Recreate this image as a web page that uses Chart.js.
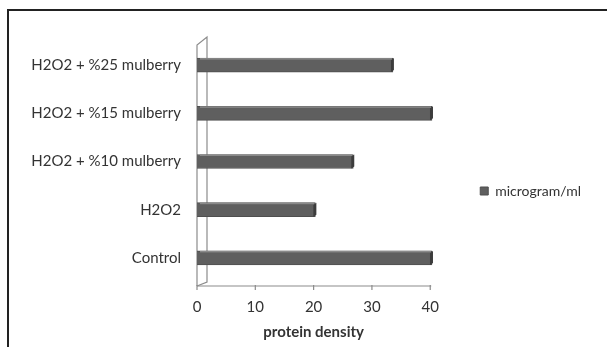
<!DOCTYPE html>
<html>
<head>
<meta charset="utf-8">
<script src="https://cdn.jsdelivr.net/npm/chart.js@4/dist/chart.umd.min.js"></script>
<style>
  body { margin: 0; background: #fff; }
  #wrap { position: relative; width: 607px; height: 347px; }
  #frame { position: absolute; left: 7px; top: 9px; right: -5px; bottom: -5px; border-top: 2px solid #222; border-left: 2px solid #222; pointer-events: none; }
</style>
</head>
<body>
<div id="wrap">
  <canvas id="chart" width="607" height="347"></canvas>
  <div id="frame"></div>
</div>
<script>
// data (top to bottom)
const categories = ["H2O2 + %25 mulberry", "H2O2 + %15 mulberry", "H2O2 + %10 mulberry", "H2O2", "Control"];
const proteinValues = [33.6, 40.3, 26.8, 20.3, 40.3];
const xTicks = [0, 10, 20, 30, 40];
const seriesName = "microgram/ml";

const DEPTH = 10; // 3d wall offset

// left wall + floor line, drawn from the scale positions
const wallPlugin = {
  id: "wall",
  beforeLayout(chart) {
    // let the legend be wider than half the free space (it keeps the gap to the plot)
    const lg = chart.legend;
    if (lg && !lg._wide) {
      const fit = lg.fit;
      lg.fit = function () { this.maxWidth = 1000; fit.call(this); };
      lg._wide = true;
    }
  },
  beforeDatasetsDraw(chart) {
    const { ctx, chartArea, scales } = chart;
    const x0 = scales.x.getPixelForValue(0);
    const floor = chartArea.bottom + 4;
    const top = chartArea.top + 4;
    ctx.save();
    ctx.strokeStyle = "#8c8c8c";
    ctx.lineWidth = 1.2;
    ctx.beginPath();
    ctx.moveTo(x0, floor);
    ctx.lineTo(x0, top);
    ctx.lineTo(x0 + DEPTH, top - 8);
    ctx.lineTo(x0 + DEPTH, floor - 4);
    ctx.lineTo(x0, floor);
    ctx.stroke();
    // floor line with ticks
    ctx.beginPath();
    ctx.moveTo(x0, floor);
    ctx.lineTo(scales.x.getPixelForValue(xTicks[xTicks.length - 1]) + 1, floor);
    xTicks.forEach(t => {
      const px = scales.x.getPixelForValue(t);
      ctx.moveTo(px, floor - 1);
      ctx.lineTo(px, floor + 4);
    });
    ctx.stroke();
    ctx.restore();
  },
  afterDatasetsDraw(chart) {
    // small bevel on the end of each bar
    const { ctx } = chart;
    const meta = chart.getDatasetMeta(0);
    ctx.save();
    meta.data.forEach(bar => {
      const h = bar.height;
      const y0 = bar.y - h / 2;
      ctx.fillStyle = "#3c3c3c";
      ctx.beginPath();
      ctx.moveTo(bar.x - 2, y0 + 2);
      ctx.lineTo(bar.x + 1, y0);
      ctx.lineTo(bar.x + 1, y0 + h - 2);
      ctx.lineTo(bar.x - 2, y0 + h);
      ctx.closePath();
      ctx.fill();
      ctx.fillStyle = "#8a8a8a";
      ctx.fillRect(bar.base + 3, y0, bar.x - bar.base - 4, 1.5);
    });
    ctx.restore();
  }
};

new Chart(document.getElementById("chart"), {
  type: "bar",
  data: {
    labels: categories,
    datasets: [{
      label: seriesName,
      data: proteinValues,
      backgroundColor: "#5f5f5f",
      borderColor: "#4f4f4f",
      borderWidth: 1,
      barThickness: 14,
      clip: false
    }]
  },
  options: {
    indexAxis: "y",
    responsive: false,
    animation: false,
    layout: { padding: { top: 41, bottom: 6, right: 16, left: 0 } },
    scales: {
      x: {
        min: 0,
        max: 40,
        grid: { display: false, drawTicks: false },
        border: { display: false },
        afterFit(scale) { scale.height = 59; },
        ticks: {
          stepSize: 10,
          padding: 16,
          color: "#333",
          font: { family: "Lato", size: 15 }
        },
        title: {
          display: true,
          text: "protein density",
          color: "#333",
          padding: { top: 6, bottom: 0 },
          font: { family: "Lato", size: 15, weight: "bold" }
        }
      },
      y: {
        grid: { display: false, drawTicks: false },
        border: { display: false },
        afterFit(scale) { scale.width = 197; },
        ticks: {
          padding: 16,
          color: "#333",
          font: { family: "Lato", size: 15 }
        }
      }
    },
    plugins: {
      legend: {
        position: "right",
        labels: {
          boxWidth: 8,
          boxHeight: 8,
          padding: 50,
          color: "#333",
          font: { family: "Lato", size: 14 }
        }
      },
      tooltip: { enabled: false }
    }
  },
  plugins: [wallPlugin]
});
</script>
</body>
</html>
